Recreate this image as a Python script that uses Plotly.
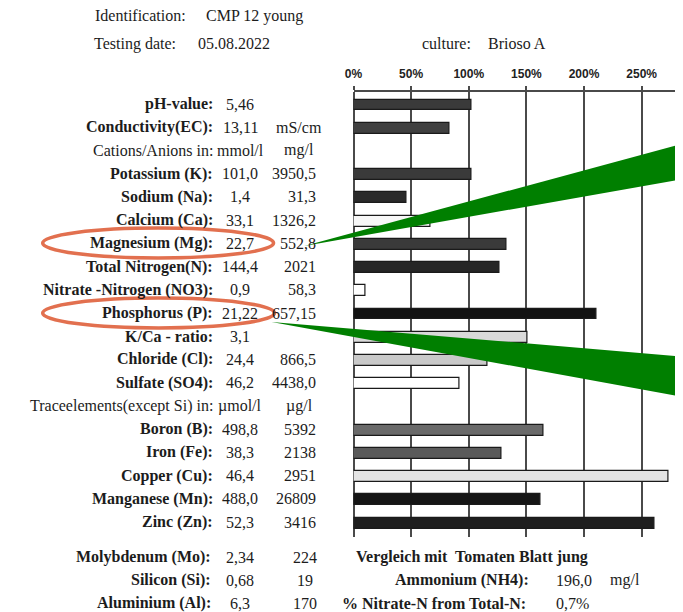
import plotly.graph_objects as go

# ---------------- data ----------------
row_labels = ["pH-value:", "Conductivity(EC):", "Cations/Anions in:", "Potassium (K):",
              "Sodium (Na):", "Calcium (Ca):", "Magnesium (Mg):", "Total Nitrogen(N):",
              "Nitrate -Nitrogen (NO3):", "Phosphorus (P):", "K/Ca - ratio:", "Chloride (Cl):",
              "Sulfate (SO4):", "Traceelements(except Si) in:", "Boron (B):", "Iron (Fe):",
              "Copper (Cu):", "Manganese (Mn):", "Zinc (Zn):"]
row_bold = [True, True, False, True, True, True, True, True, True, True, True, True, True,
            False, True, True, True, True, True]
col_mmol = ["5,46", "13,11", "mmol/l", "101,0", "1,4", "33,1", "22,7", "144,4", "0,9", "21,22",
            "3,1", "24,4", "46,2", "µmol/l", "498,8", "38,3", "46,4", "488,0", "52,3"]
col_mg = ["", "mS/cm", "mg/l", "3950,5", "31,3", "1326,2", "552,8", "2021", "58,3", "657,15",
          "", "866,5", "4438,0", "µg/l", "5392", "2138", "2951", "26809", "3416"]
pct_values = [102, 83, None, 102, 46, 67, 133, 127, 10, 211, 151, 116, 92, None,
              165, 128, 273, 162, 261]
bar_colors = ["#3a3a3a", "#404040", "#ffffff", "#3a3a3a", "#2a2a2a", "#f7f7f7", "#3a3a3a",
              "#262626", "#ffffff", "#121212", "#d9d9d9", "#c9c9c9", "#ffffff", "#ffffff",
              "#6a6a6a", "#5a5a5a", "#e4e4e4", "#151515", "#1e1e1e"]

extra_labels = ["Molybdenum (Mo):", "Silicon (Si):", "Aluminium (Al):"]
extra_mmol = ["2,34", "0,68", "6,3"]
extra_mg = ["224", "19", "170"]

tick_vals = [0, 50, 100, 150, 200, 250]
tick_text = ["0%", "50%", "100%", "150%", "200%", "250%"]

# page shows the figure with an 8px body margin; lay out in page pixels
OFF = 8
W, H = 683, 612
PLOT_TOP, PLOT_BOT = 92 - OFF, 537 - OFF
T_M, B_M = PLOT_TOP, H - PLOT_BOT
PLOT_H = PLOT_BOT - PLOT_TOP
X0 = 349 - OFF
PX_PER_PCT = 1.168


def px(x):
    return (x - OFF) / W


def py(y):
    return (PLOT_BOT - (y - OFF)) / PLOT_H


rows = list(range(len(row_labels)))
bar_rows = [r for r, v in zip(rows, pct_values) if v is not None]
bar_x = [v for v in pct_values if v is not None]
bar_c = [c for c, v in zip(bar_colors, pct_values) if v is not None]

fig = go.Figure()
fig.add_trace(go.Bar(
    x=bar_x, y=bar_rows, orientation="h", width=0.47,
    marker=dict(color=bar_c, line=dict(color="#1a1a1a", width=1.2)),
    hoverinfo="skip", showlegend=False,
))

serif = "Liberation Serif, Times New Roman, serif"
txt_col = "#1c1c1c"
FS = 16
F = dict(family=serif, size=FS, color=txt_col)


def t(x, y, text, anchor, yref="paper", ys=0):
    return dict(x=px(x), y=y if yref == "y" else py(y), xref="paper", yref=yref,
                xanchor=anchor, yanchor="middle", text=text, showarrow=False, font=F,
                yshift=ys)


ann = []
for r in rows:
    lab = row_labels[r]
    ann.append(t(209, r, f"<b>{lab}</b>" if row_bold[r] else lab, "right", "y", 1))
    ann.append(t(234, r, col_mmol[r], "center", "y", 1))
    if col_mg[r]:
        is_unit = not col_mg[r][0].isdigit()
        ann.append(t(294 if is_unit else 313, r, col_mg[r],
                     "center" if is_unit else "right", "y", 1))

extra_y = [557, 580, 603]
for lab, a, b, yy in zip(extra_labels, extra_mmol, extra_mg, extra_y):
    ann.append(t(207, yy, f"<b>{lab}</b>", "right"))
    ann.append(t(234, yy, a, "center"))
    ann.append(t(300, yy, b, "center"))

# bottom right texts
ann += [
    t(350, 557, "<b>Vergleich mit  Tomaten Blatt jung</b>", "left"),
    t(529, 580, "<b>Ammonium (NH4):</b>", "right"),
    t(552, 580, "196,0", "left"),
    t(607, 580, "mg/l", "left"),
    t(526, 603, "<b>% Nitrate-N from Total-N:</b>", "right"),
    t(552, 603, "0,7%", "left"),
]

# header texts
ann += [
    t(181, 16, "Identification:", "right"),
    t(198, 16, "CMP 12 young", "left"),
    t(171, 44, "Testing date:", "right"),
    t(189, 44, "05.08.2022", "left"),
    t(470, 44, "culture:", "right"),
    t(483, 44, "Brioso A", "left"),
]

# highlight shapes (ellipses and green wedges)
orange = "#E2704F"
green = "#007F00"
shapes = [
    dict(type="circle", xref="paper", yref="paper", x0=px(34), x1=px(268),
         y0=py(228), y1=py(258), line=dict(color=orange, width=3.5), layer="above"),
    dict(type="circle", xref="paper", yref="paper", x0=px(34), x1=px(269),
         y0=py(298), y1=py(328), line=dict(color=orange, width=3.5), layer="above"),
    dict(type="path", xref="paper", yref="paper",
         path=f"M {px(299)} {py(246)} L {px(700)} {py(139)} L {px(700)} {py(176)} Z",
         fillcolor=green, line=dict(width=0), layer="above"),
    dict(type="path", xref="paper", yref="paper",
         path=f"M {px(266)} {py(322)} L {px(700)} {py(358)} L {px(700)} {py(400)} Z",
         fillcolor=green, line=dict(width=0), layer="above"),
]

fig.update_layout(
    width=W, height=H,
    margin=dict(l=0, r=0, t=T_M, b=B_M),
    paper_bgcolor="white", plot_bgcolor="white",
    annotations=ann, shapes=shapes, bargap=0,
    xaxis=dict(domain=[X0 / W, 1], range=[0, (W - X0) / PX_PER_PCT], side="top",
               tickvals=tick_vals, ticktext=[f"<b>{v}</b>" for v in tick_text],
               tickfont=dict(family="Liberation Sans, Arial, sans-serif", size=12, color="#222"),
               showgrid=True, gridcolor="#4a4a4a", gridwidth=1.5,
               zeroline=True, zerolinecolor="#4a4a4a", zerolinewidth=1.5,
               showline=True, linecolor="#4a4a4a", linewidth=1.5,
               ticks="outside", ticklen=4, tickcolor="#4a4a4a", tickwidth=1.5,
               ticklabelstandoff=3, fixedrange=True),
    yaxis=dict(range=[18.6, -0.56], visible=False, showgrid=False, fixedrange=True),
)

fig.write_html("out.html")
